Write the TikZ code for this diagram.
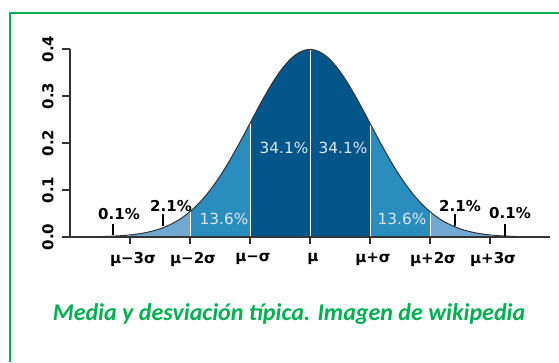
\documentclass[tikz,border=0pt]{standalone}
\usepackage{fontspec}
\usepackage{tikz}
\usetikzlibrary{positioning}
\newfontfamily\plotfont{DejaVu Sans}
\newfontfamily\captfont{Carlito}
\definecolor{darkband}{RGB}{4,86,138}
\definecolor{midband}{RGB}{43,140,190}
\definecolor{lightband}{RGB}{112,168,210}
\definecolor{bandtext}{RGB}{222,232,242}
\definecolor{framegreen}{RGB}{0,176,80}
\definecolor{axisgray}{RGB}{51,51,51}

\begin{document}
\begin{tikzpicture}[x=1pt, y=-1pt,
    every node/.style = {align=center, inner sep=0pt},
    axislabel/.style = {font=\plotfont\bfseries\fontsize{15}{16}\selectfont, text=black},
    pctlabel/.style = {font=\plotfont\bfseries\fontsize{15}{16}\selectfont, text=black},
    bandlabel/.style = {font=\plotfont\fontsize{15.3}{16}\selectfont, text=bandtext},
    divider/.style = {draw=white, line width=0.9pt}]
    \useasboundingbox (0,0) rectangle (559,362);
    % frame
    \draw[framegreen, line width=2pt] (10,362) -- (10,13) -- (559,13);
    % bands
    \fill[lightband] plot[domain=-3:-2, samples=30] ({310+60*\x},{237-187.5*exp(-0.5*\x*\x)}) -- (190,237) -- (130,237) -- cycle;
    \fill[lightband] plot[domain=2:3, samples=30] ({310+60*\x},{237-187.5*exp(-0.5*\x*\x)}) -- (490,237) -- (430,237) -- cycle;
    \fill[midband] plot[domain=-2:-1, samples=30] ({310+60*\x},{237-187.5*exp(-0.5*\x*\x)}) -- (250,237) -- (190,237) -- cycle;
    \fill[midband] plot[domain=1:2, samples=30] ({310+60*\x},{237-187.5*exp(-0.5*\x*\x)}) -- (430,237) -- (370,237) -- cycle;
    \fill[darkband] plot[domain=-1:1, samples=60] ({310+60*\x},{237-187.5*exp(-0.5*\x*\x)}) -- (370,237) -- (250,237) -- cycle;
    % dividers
    \foreach \z in {-2,-1,0,1,2}
      \draw[divider] ({310+60*\z},237) -- ({310+60*\z},{237-187.5*exp(-0.5*\z*\z)});
    % curve
    \draw[axisgray, line width=1pt] plot[domain=-4:4, samples=161] ({310+60*\x},{237-187.5*exp(-0.5*\x*\x)});
    % axes
    \coordinate (origin) at (70,237);
    \coordinate (xend) at (550,237);
    \coordinate (ytop) at (70,49);
    \draw[axisgray, line width=2pt] (origin) -- (xend);
    \draw[axisgray, line width=2pt] (ytop) -- (origin);
    \foreach \v/\yy in {0.0/237, 0.1/190, 0.2/143, 0.3/96, 0.4/49} {
      \draw[axisgray, line width=2pt] (62,\yy) -- (70,\yy);
      \node[axislabel, rotate=90] (ylab\v) at (48,\yy) {\v};
    }
    % x ticks and labels
    \foreach \z/\name/\txt in {-3/m3/{μ−3σ}, -2/m2/{μ−2σ}, -1/m1/{μ−σ}, 0/mu/{μ}, 1/p1/{μ+σ}, 2/p2/{μ+2σ}, 3/p3/{μ+3σ}} {
      \draw[axisgray, line width=2pt] ({310+60*\z},237) -- ({310+60*\z},244);
      \node[axislabel] (x\name) at ({313+60*\z},259) {\txt};
    }
    % band percentages
    \node[bandlabel] (cl) at (284,148) {34.1\%};
    \node[bandlabel] (cr) at (343,148) {34.1\%};
    \node[bandlabel] (ml) at (224,219) {13.6\%};
    \node[bandlabel] (mr) at (402,219) {13.6\%};
    % tail percentages
    \node[pctlabel] (tl) at (119,214) {0.1\%};
    \node[pctlabel] (sl) at (171,206) {2.1\%};
    \node[pctlabel] (sr) at (460,206) {2.1\%};
    \node[pctlabel] (tr) at (510,213) {0.1\%};
    \draw[black, line width=1.6pt] (113,224) -- (113,235);
    \draw[black, line width=1.6pt] (163,214) -- (163,226);
    \draw[black, line width=1.6pt] (455,214) -- (455,226);
    \draw[black, line width=1.6pt] (505,224) -- (505,236);
    % caption
    \node[font=\captfont\bfseries\itshape\fontsize{24}{27}\selectfont, text=framegreen] (caption) at (289,314) {Media y desviación típica. Imagen de wikipedia};
\end{tikzpicture}
\end{document}
